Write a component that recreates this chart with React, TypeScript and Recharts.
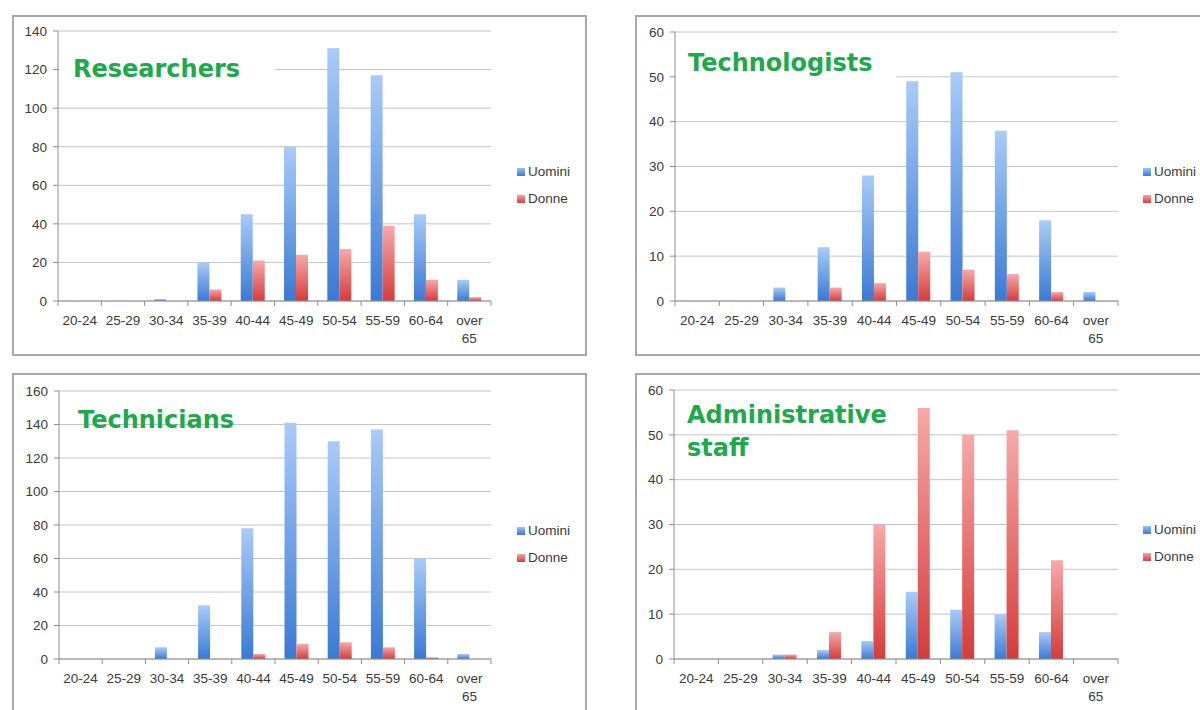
import React from 'react';
import { BarChart, Bar, XAxis, YAxis, CartesianGrid } from 'recharts';

const ageGroups = ['20-24', '25-29', '30-34', '35-39', '40-44', '45-49', '50-54', '55-59', '60-64', 'over 65'];
const seriesNames = ['Uomini', 'Donne'];

const researchersUomini = [0, 0, 1, 20, 45, 80, 131, 117, 45, 11];
const researchersDonne = [0, 0, 0, 6, 21, 24, 27, 39, 11, 2];
const technologistsUomini = [0, 0, 3, 12, 28, 49, 51, 38, 18, 2];
const technologistsDonne = [0, 0, 0, 3, 4, 11, 7, 6, 2, 0];
const techniciansUomini = [0, 0, 7, 32, 78, 141, 130, 137, 60, 3];
const techniciansDonne = [0, 0, 0, 0, 3, 9, 10, 7, 1, 0];
const adminUomini = [0, 0, 1, 2, 4, 15, 11, 10, 6, 0];
const adminDonne = [0, 0, 1, 6, 30, 56, 50, 51, 22, 0];

const ticks140 = [0, 20, 40, 60, 80, 100, 120, 140];
const ticks160 = [0, 20, 40, 60, 80, 100, 120, 140, 160];
const ticks60 = [0, 10, 20, 30, 40, 50, 60];

const AXIS = '#8e8e8e';
const GRID = '#c4c4c4';
const LABEL = '#3a3a3a';
const FONT = '"Liberation Sans", Arial, sans-serif';
const GREEN = '#22a84c';
const BORDER = 2;

const buildRows = (uomini: number[], donne: number[]) =>
  ageGroups.map((age, i) => ({ age, Uomini: uomini[i], Donne: donne[i] }));

const AgeTick = (props: any) => {
  const { x, y, payload } = props;
  const half = payload.offset || 21.5;
  const axisY = y - 8;
  const lines = String(payload.value).split(' ');
  const isLast = payload.value === ageGroups[ageGroups.length - 1];
  return (
    <g>
      <line x1={x - half} x2={x - half} y1={axisY} y2={axisY + 5} stroke={AXIS} />
      {isLast && <line x1={x + half} x2={x + half} y1={axisY} y2={axisY + 5} stroke={AXIS} />}
      <text x={x} y={y} textAnchor="middle" fill={LABEL} fontSize={13.5} fontFamily={FONT}>
        {lines.map((l, i) => (
          <tspan key={i} x={x} dy={i === 0 ? 16 : 18}>{l}</tspan>
        ))}
      </text>
    </g>
  );
};

interface PanelProps {
  id: string;
  box: { left: number; top: number; width: number; height: number };
  plot: { left: number; top: number; right: number; bottom: number };
  rows: any[];
  yTicks: number[];
  title: string[];
  titleAt: { left: number; center: number };
  titleBg?: { left: number; top: number; width: number; height: number };
  legendAt: { left: number; top: number };
}

function Panel({ id, box, plot, rows, yTicks, title, titleAt, titleBg, legendAt }: PanelProps) {
  const xAxisHeight = 40;
  const chartW = box.width;
  const chartH = box.height;
  const yMax = yTicks[yTicks.length - 1];
  return (
    <div
      style={{
        position: 'absolute',
        left: box.left,
        top: box.top,
        width: box.width - BORDER * 2,
        height: box.height - BORDER * 2,
        border: `${BORDER}px solid #a8a8a8`,
        background: '#fff',
      }}
    >
      <div style={{ position: 'absolute', left: -BORDER, top: -BORDER }}>
        <BarChart
          width={chartW}
          height={chartH}
          data={rows}
          barGap={0}
          barCategoryGap="22%"
          margin={{
            top: plot.top,
            left: 0,
            right: chartW - plot.right,
            bottom: chartH - plot.bottom - xAxisHeight,
          }}
        >
          <defs>
            <linearGradient id={`${id}-blue`} x1="0" y1="0" x2="0" y2="1">
              <stop offset="0%" stopColor="#a9cbf7" />
              <stop offset="100%" stopColor="#3a7ad4" />
            </linearGradient>
            <linearGradient id={`${id}-red`} x1="0" y1="0" x2="0" y2="1">
              <stop offset="0%" stopColor="#f7a9a9" />
              <stop offset="100%" stopColor="#d63b3b" />
            </linearGradient>
          </defs>
          <CartesianGrid vertical={false} stroke={GRID} />
          <XAxis
            dataKey="age"
            height={xAxisHeight}
            interval={0}
            stroke={AXIS}
            tickLine={false}
            tickSize={6}
            tickMargin={2}
            tick={<AgeTick />}
          />
          <YAxis
            width={plot.left}
            domain={[0, yMax]}
            ticks={yTicks}
            interval={0}
            stroke={AXIS}
            tickSize={5}
            tickMargin={6}
            tick={{ fill: LABEL, fontSize: 13.5, fontFamily: FONT }}
          />
          <Bar dataKey={seriesNames[0]} fill={`url(#${id}-blue)`} isAnimationActive={false} />
          <Bar dataKey={seriesNames[1]} fill={`url(#${id}-red)`} isAnimationActive={false} />
        </BarChart>
      </div>
      {titleBg && (
        <div
          style={{
            position: 'absolute',
            left: titleBg.left - BORDER,
            top: titleBg.top - BORDER,
            width: titleBg.width,
            height: titleBg.height,
            background: '#fff',
          }}
        />
      )}
      <div
        style={{
          position: 'absolute',
          left: titleAt.left - BORDER,
          top: titleAt.center - 16.5 - BORDER,
          lineHeight: '33px',
          fontSize: 24,
          fontWeight: 'bold',
          color: GREEN,
          fontFamily: '"Comic Sans MS", "DejaVu Sans", sans-serif',
          whiteSpace: 'nowrap',
        }}
      >
        {title.map((t) => (
          <div key={t}>{t}</div>
        ))}
      </div>
      <div
        style={{
          position: 'absolute',
          left: legendAt.left - BORDER,
          top: legendAt.top - BORDER,
          fontFamily: FONT,
          fontSize: 13.5,
          color: LABEL,
        }}
      >
        {seriesNames.map((name, i) => (
          <div key={name} style={{ display: 'flex', alignItems: 'center', height: 27, whiteSpace: 'nowrap' }}>
            <span
              style={{
                display: 'inline-block',
                width: 8,
                height: 8,
                marginRight: 3,
                background:
                  i === 0
                    ? 'linear-gradient(#9cc2f4, #3a7ad4)'
                    : 'linear-gradient(#f5a3a3, #d63b3b)',
              }}
            />
            {name}
          </div>
        ))}
      </div>
    </div>
  );
}

export default function App() {
  return (
    <div
      style={{
        position: 'absolute',
        left: 0,
        top: 0,
        width: 1200,
        height: 710,
        overflow: 'hidden',
        background: '#fff',
      }}
    >
      <Panel
        id="res"
        box={{ left: 12, top: 15, width: 575, height: 341 }}
        plot={{ left: 46, top: 16, right: 479, bottom: 286 }}
        rows={buildRows(researchersUomini, researchersDonne)}
        yTicks={ticks140}
        title={['Researchers']}
        titleAt={{ left: 61, center: 54 }}
        titleBg={{ left: 47, top: 30, width: 216, height: 50 }}
        legendAt={{ left: 505, top: 143 }}
      />
      <Panel
        id="tlg"
        box={{ left: 635, top: 15, width: 600, height: 341 }}
        plot={{ left: 40, top: 17, right: 483, bottom: 286 }}
        rows={buildRows(technologistsUomini, technologistsDonne)}
        yTicks={ticks60}
        title={['Technologists']}
        titleAt={{ left: 53, center: 48 }}
        titleBg={{ left: 41, top: 28, width: 220, height: 57 }}
        legendAt={{ left: 508, top: 143 }}
      />
      <Panel
        id="tec"
        box={{ left: 12, top: 373, width: 575, height: 345 }}
        plot={{ left: 47, top: 18, right: 479, bottom: 286 }}
        rows={buildRows(techniciansUomini, techniciansDonne)}
        yTicks={ticks160}
        title={['Technicians']}
        titleAt={{ left: 66, center: 47 }}
        legendAt={{ left: 505, top: 144 }}
      />
      <Panel
        id="adm"
        box={{ left: 635, top: 373, width: 600, height: 345 }}
        plot={{ left: 39, top: 17, right: 483, bottom: 286 }}
        rows={buildRows(adminUomini, adminDonne)}
        yTicks={ticks60}
        title={['Administrative', 'staff']}
        titleAt={{ left: 52, center: 42 }}
        legendAt={{ left: 508, top: 143 }}
      />
    </div>
  );
}
